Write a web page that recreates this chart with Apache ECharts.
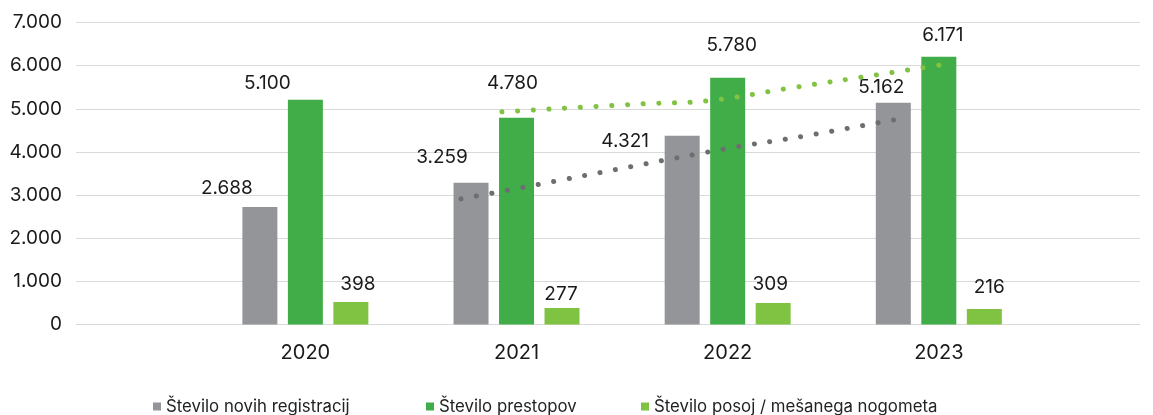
<!DOCTYPE html>
<html>
<head>
<meta charset="utf-8">
<title>Število registracij, prestopov in posoj</title>
<script src="https://cdn.jsdelivr.net/npm/echarts@6/dist/echarts.min.js"></script>
<style>
    html, body {
        margin: 0;
        padding: 0;
        background: #fff;
    }

    #chart {
        width: 1153px;
        height: 415px;
    }
</style>
</head>
<body>
<div id="chart"></div>
<script>
// kategorije (leta)
const years = ['2020', '2021', '2022', '2023']
const yTicks = [0, 1000, 2000, 3000, 4000, 5000, 6000, 7000]

// višine stolpcev, odčitane s slike
const registracije = [2726, 3283, 4374, 5139]
const prestopi = [5209, 4791, 5719, 6206]
const posoje = [522, 383, 499, 360]

// napisi nad stolpci
const registracijeLabels = ['2.688', '3.259', '4.321', '5.162']
const prestopiLabels = ['5.100', '4.780', '5.780', '6.171']
const posojeLabels = ['398', '277', '309', '216']

// trendne črte (x v enotah kategorij, 0..4)
const trendRegX = [1.237, 1.535, 2.515, 2.814, 3.316]
const trendRegY = [2912, 3183, 4095, 4327, 4768]
const trendPresX = [1.431, 2.104, 2.411, 2.804, 3.188, 3.553]
const trendPresY = [4930, 5116, 5186, 5487, 5773, 6051]

// ročni zamiki napisov (kot v izvirniku)
const regOffsets = [[-33, -4], [-29, -11], [-57, 20], [-12, -1]]
const presOffsets = [[-38, -2], [-4, -20], [4, -18], [4, -7]]
const posOffsets = [[7, -3], [-1, 1], [-3, -4], [5, -7]]

const FONT = 'Inter, "Open Sans", sans-serif'
const numFmt = v => String(v).replace(/\B(?=(\d{3})+(?!\d))/g, '.')

function barData(values, labels, offsets) {
    return values.map((v, i) => ({
        value: v,
        label: {
            formatter: labels[i],
            offset: offsets[i]
        }
    }))
}

function pairs(xs, ys) {
    return xs.map((x, i) => [x, ys[i]])
}

const mycharts = echarts.init(document.getElementById('chart'))

mycharts.setOption({
    animation: false,
    backgroundColor: '#fff',
    textStyle: { fontFamily: FONT },
    grid: [
        // ozadje: mreža in os y
        { left: 76, right: 13, top: 22.5, bottom: 90.5 },
        // stolpci
        { left: 199.8, right: 108.6, top: 22.5, bottom: 90.5 }
    ],
    legend: [
        { name: 'Število novih registracij', left: 148 },
        { name: 'Število prestopov', left: 421 },
        { name: 'Število posoj / mešanega nogometa', left: 636 }
    ].map(l => ({
        data: [l.name],
        left: l.left,
        top: 393,
        icon: 'rect',
        itemWidth: 8,
        itemHeight: 8,
        itemGap: 5,
        textStyle: { fontSize: 16.8, color: '#222', fontFamily: FONT }
    })),
    xAxis: [
        {
            gridIndex: 0,
            type: 'category',
            data: [''],
            axisLine: { lineStyle: { color: '#d9d9d9', width: 1 } },
            axisTick: { show: false },
            axisLabel: { show: false }
        },
        {
            gridIndex: 1,
            type: 'category',
            data: years,
            axisLine: { show: false },
            axisTick: { show: false },
            axisLabel: { fontSize: 20, color: '#1a1a1a', margin: 18, fontFamily: FONT }
        },
        {
            gridIndex: 1,
            type: 'value',
            min: 0,
            max: 4,
            show: false
        }
    ],
    yAxis: [
        {
            gridIndex: 0,
            type: 'value',
            min: yTicks[0],
            max: yTicks[yTicks.length - 1],
            interval: 1000,
            axisLine: { show: false },
            axisTick: { show: false },
            splitLine: { lineStyle: { color: '#d9d9d9', width: 1 } },
            axisLabel: {
                fontSize: 19,
                color: '#1a1a1a',
                margin: 14,
                fontFamily: FONT,
                formatter: numFmt
            }
        },
        {
            gridIndex: 1,
            type: 'value',
            min: yTicks[0],
            max: yTicks[yTicks.length - 1],
            show: false
        }
    ],
    series: [
        {
            name: 'Število novih registracij',
            type: 'bar',
            xAxisIndex: 1,
            yAxisIndex: 1,
            barWidth: 35,
            barGap: '30%',
            color: '#939598',
            label: { show: true, position: 'top', fontSize: 19, color: '#1a1a1a', fontFamily: FONT },
            data: barData(registracije, registracijeLabels, regOffsets)
        },
        {
            name: 'Število prestopov',
            type: 'bar',
            xAxisIndex: 1,
            yAxisIndex: 1,
            barWidth: 35,
            barGap: '30%',
            color: '#41ad49',
            label: { show: true, position: 'top', fontSize: 19, color: '#1a1a1a', fontFamily: FONT },
            data: barData(prestopi, prestopiLabels, presOffsets)
        },
        {
            name: 'Število posoj / mešanega nogometa',
            type: 'bar',
            xAxisIndex: 1,
            yAxisIndex: 1,
            barWidth: 35,
            barGap: '30%',
            color: '#80c241',
            label: { show: true, position: 'top', fontSize: 19, color: '#1a1a1a', fontFamily: FONT },
            data: barData(posoje, posojeLabels, posOffsets)
        },
        {
            name: 'trend registracij',
            type: 'line',
            xAxisIndex: 2,
            yAxisIndex: 1,
            smooth: 0.4,
            showSymbol: false,
            silent: true,
            z: 5,
            lineStyle: { color: '#6d6e71', width: 5, type: [0.1, 15.6], cap: 'round' },
            data: pairs(trendRegX, trendRegY)
        },
        {
            name: 'trend prestopov',
            type: 'line',
            xAxisIndex: 2,
            yAxisIndex: 1,
            smooth: 0.4,
            showSymbol: false,
            silent: true,
            z: 5,
            lineStyle: { color: '#80c241', width: 5, type: [0.1, 15.6], cap: 'round' },
            data: pairs(trendPresX, trendPresY)
        }
    ]
})
</script>
</body>
</html>
